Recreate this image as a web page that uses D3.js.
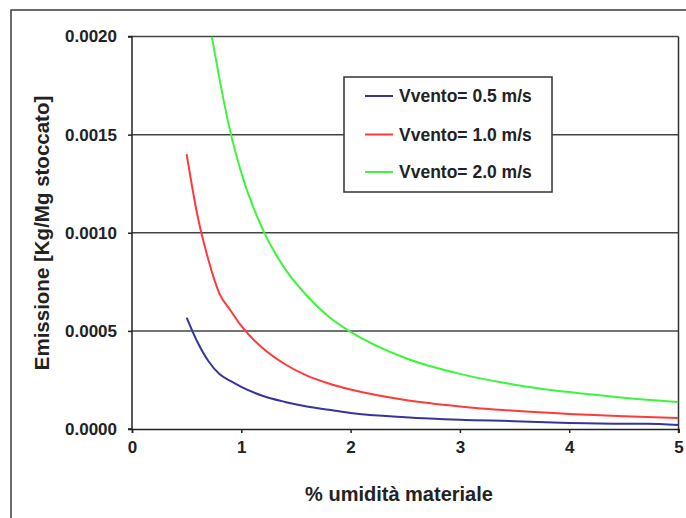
<!DOCTYPE html>
<html><head><meta charset="utf-8">
<script src="https://cdn.jsdelivr.net/npm/d3@7"></script>
<style>
html,body{margin:0;padding:0;background:#fff;}
svg text{font-family:"Liberation Sans",Arial,sans-serif;font-weight:bold;fill:#222;}
</style></head>
<body>
<svg id="chart" width="686" height="518"></svg>
<script>
// Data
const seriesNames = ["Vvento= 0.5 m/s", "Vvento= 1.0 m/s", "Vvento= 2.0 m/s"];
const seriesColors = ["#35359a", "#ff3a3a", "#3cf53c"];
const blueX  = [0.5, 0.6, 0.7, 0.8, 0.9, 1.0, 1.2, 1.4, 1.6, 1.8, 2.0, 2.5, 3.0, 3.5, 4.0, 4.5, 4.7, 5.0];
const blueY  = [0.000568, 0.000442, 0.000345, 0.000280, 0.000245, 0.000215, 0.000168, 0.000138, 0.000115, 0.000098, 0.000082, 0.000060, 0.000047, 0.000040, 0.000031, 0.000027, 0.000027, 0.000021];
const redX   = [0.5, 0.6, 0.7, 0.8, 0.9, 1.0, 1.2, 1.4, 1.6, 1.8, 2.0, 2.5, 3.0, 3.5, 4.0, 4.5, 5.0];
const redY   = [0.001400, 0.001085, 0.000860, 0.000690, 0.000605, 0.000525, 0.000410, 0.000330, 0.000272, 0.000232, 0.000201, 0.000148, 0.000115, 0.000093, 0.000077, 0.000065, 0.000056];
const greenX = [0.73, 0.8, 0.9, 1.0, 1.2, 1.4, 1.6, 1.8, 2.0, 2.5, 3.0, 3.5, 4.0, 4.5, 5.0];
const greenY = [0.002000, 0.001785, 0.001514, 0.001306, 0.001012, 0.000816, 0.000679, 0.000572, 0.000495, 0.000362, 0.000281, 0.000226, 0.000188, 0.000159, 0.000137];
const xTicks = [0, 1, 2, 3, 4, 5];
const yTicks = [0, 0.0005, 0.0010, 0.0015, 0.0020];
const xTitle = "% umidità materiale";
const yTitle = "Emissione [Kg/Mg stoccato]";

const svg = d3.select("#chart");
const L = 132, R = 678.5, T = 36.5, B = 429;
const x = d3.scaleLinear().domain([0, 5]).range([L, R]);
const y = d3.scaleLinear().domain([0, 0.002]).range([B, T]);

// outer frame
svg.append("rect").attr("x", 11).attr("y", 10).attr("width", 700).attr("height", 530)
  .attr("fill", "none").attr("stroke", "#3a3a3a").attr("stroke-width", 1.5);

// gridlines
svg.append("g").selectAll("line").data(yTicks.filter(d => d > 0)).join("line")
  .attr("x1", L).attr("x2", R).attr("y1", d => y(d)).attr("y2", d => y(d))
  .attr("stroke", "#444").attr("stroke-width", 1.5);
// right frame
svg.append("line").attr("x1", R).attr("x2", R).attr("y1", T).attr("y2", B + 4)
  .attr("stroke", "#333").attr("stroke-width", 1.5);

// axes
const yAxis = d3.axisLeft(y).tickValues(yTicks).tickFormat(d3.format(".4f")).tickSize(4).tickPadding(11);
const gy = svg.append("g").attr("transform", `translate(${L},0)`).call(yAxis);
const xAxis = d3.axisBottom(x).tickValues(xTicks).tickFormat(d3.format("d")).tickSize(4).tickPadding(8);
const gx = svg.append("g").attr("transform", `translate(0,${B})`).call(xAxis);
[gy, gx].forEach(g => {
  g.select(".domain").attr("stroke", "#222").attr("stroke-width", 1.5);
  g.selectAll(".tick line").attr("stroke", "#222").attr("stroke-width", 1.5);
  g.selectAll(".tick text").attr("font-size", 17).attr("fill", "#222")
    .attr("font-family", "Liberation Sans, Arial, sans-serif").attr("font-weight", "bold");
});
gy.select(".domain").attr("d", `M-4,${T}H0V${B}H-4`);

// curves
svg.append("clipPath").attr("id", "clip").append("rect")
  .attr("x", L).attr("y", T).attr("width", R - L).attr("height", B - T);
const line = d3.line().x(d => x(d[0])).y(d => y(d[1])).curve(d3.curveMonotoneX);
const series = [d3.zip(blueX, blueY), d3.zip(redX, redY), d3.zip(greenX, greenY)];
svg.append("g").attr("clip-path", "url(#clip)").selectAll("path").data(series).join("path")
  .attr("d", line).attr("fill", "none")
  .attr("stroke", (d, i) => seriesColors[i]).attr("stroke-width", 2);

// legend
const lg = svg.append("g");
lg.append("rect").attr("x", 344).attr("y", 77).attr("width", 208).attr("height", 115)
  .attr("fill", "#fff").attr("stroke", "#333").attr("stroke-width", 1.5);
const ly = [96, 134.5, 172];
seriesNames.forEach((n, i) => {
  lg.append("line").attr("x1", 365).attr("x2", 393).attr("y1", ly[i]).attr("y2", ly[i])
    .attr("stroke", seriesColors[i]).attr("stroke-width", 2);
  lg.append("text").attr("x", 399).attr("y", ly[i]).attr("dy", "0.35em")
    .attr("font-size", 17.5).text(n);
});

// titles
svg.append("text").attr("x", 399).attr("y", 501).attr("text-anchor", "middle")
  .attr("font-size", 20).text(xTitle);
svg.append("text").attr("transform", "translate(49,233) rotate(-90)").attr("text-anchor", "middle")
  .attr("font-size", 20.5).text(yTitle);
</script>
</body></html>
